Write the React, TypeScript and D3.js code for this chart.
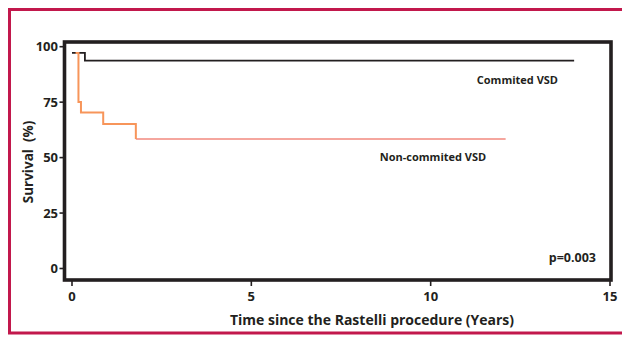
import React from 'react';
import * as d3 from 'd3';

// Kaplan-Meier steps: [years, survival %]
const committedSteps: [number, number][] = [
  [0, 97.2],
  [0.36, 93.7],
  [14.0, 93.7],
];
const nonCommittedSteps: [number, number][] = [
  [0.1, 97.2],
  [0.18, 75.1],
  [0.25, 70.3],
  [0.87, 65.1],
  [1.78, 58.4],
];
const nonCommittedTail: [number, number][] = [
  [1.78, 58.4],
  [12.09, 58.4],
];
const xTicks = [0, 5, 10, 15];
const yTicks = [0, 25, 50, 75, 100];

const W = 622;
const H = 337;
const font = "'Open Sans', 'DejaVu Sans', sans-serif";

export default function App() {
  const x = d3.scaleLinear().domain([0, 15]).range([72, 610]);
  const y = d3.scaleLinear().domain([0, 100]).range([268.5, 46.7]);

  const line = d3.line<[number, number]>()
    .x(d => x(d[0]))
    .y(d => y(d[1]))
    .curve(d3.curveStepAfter);

  const box = { left: 64.5, top: 42, right: 611, bottom: 280 };

  return (
    <svg width={W} height={H} style={{ position: 'absolute', left: 0, top: 0, background: '#fff' }}
      fontFamily={font} fontWeight={700}>
      {/* red frame, open on the right */}
      <path d={`M${W + 5},9.5 H9.5 V333 H${W + 5}`} fill="none" stroke="#c2184c" strokeWidth={3} />

      {/* plot box */}
      <rect x={box.left} y={box.top} width={box.right - box.left} height={box.bottom - box.top}
        fill="none" stroke="#231f20" strokeWidth={3.6} />

      {/* y axis ticks */}
      {yTicks.map(t => (
        <g key={t}>
          <line x1={59.5} x2={box.left} y1={y(t)} y2={y(t)} stroke="#231f20" strokeWidth={1.6} />
          <text x={58} y={y(t)} dy="0.36em" textAnchor="end" fontSize={13} fill="#231f20">{t}</text>
        </g>
      ))}

      {/* x axis ticks */}
      {xTicks.map(t => (
        <g key={t}>
          <line x1={x(t)} x2={x(t)} y1={box.bottom} y2={286} stroke="#231f20" strokeWidth={1.6} />
          <text x={x(t)} y={300.5} textAnchor="middle" fontSize={13} fill="#231f20">{t}</text>
        </g>
      ))}

      {/* curves */}
      <path d={line(committedSteps) ?? ''} fill="none" stroke="#231f20" strokeWidth={1.8} />
      <path d={line(nonCommittedTail) ?? ''} fill="none" stroke="#f5a69e" strokeWidth={2} />
      <path d={line(nonCommittedSteps.concat([[1.78, 58.4]])) ?? ''} fill="none" stroke="#f7955a" strokeWidth={2} />

      {/* labels */}
      <text x={558} y={84} textAnchor="end" fontSize={11} fill="#231f20">Commited VSD</text>
      <text x={433} y={161} textAnchor="middle" fontSize={11} fill="#231f20">Non-commited VSD</text>
      <text x={596} y={261.5} textAnchor="end" fontSize={12.5} fill="#231f20">p=0.003</text>

      <text x={372} y={325} textAnchor="middle" fontSize={14} fill="#231f20">
        Time since the Rastelli procedure (Years)
      </text>
      <text transform="translate(33,162) rotate(-90)" textAnchor="middle" fontSize={13.5} fill="#231f20"
        style={{ whiteSpace: 'pre' }}>
        {'Survival  (%)'}
      </text>
    </svg>
  );
}
